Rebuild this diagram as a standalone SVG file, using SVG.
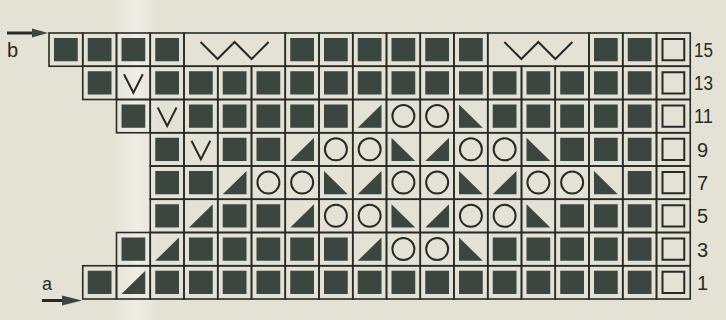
<svg xmlns="http://www.w3.org/2000/svg" xmlns:xlink="http://www.w3.org/1999/xlink" width="726" height="320" viewBox="0 0 726 320">
<style>
.fr{fill:none;stroke:#262b28;stroke-width:1.6}
.sq{fill:#3b4641}
.ln{fill:none;stroke:#262b28;stroke-width:2}
.lbl{font-family:"Liberation Sans",Arial,sans-serif;fill:#262b28}
</style>
<defs>
<linearGradient id="glare" x1="0" y1="0" x2="1" y2="0">
<stop offset="0" stop-color="#f4f2ea" stop-opacity="0"/>
<stop offset="0.55" stop-color="#f4f2ea" stop-opacity="0.75"/>
<stop offset="1" stop-color="#f4f2ea" stop-opacity="0"/>
</linearGradient>
<g id="S"><rect class="fr" width="33.75" height="33.25"/><rect class="sq" x="5" y="5" width="23.75" height="23.25"/></g>
<g id="L"><rect class="fr" width="33.75" height="33.25"/><polygon class="sq" points="5,28.25 28.75,28.25 28.75,5"/></g>
<g id="R"><rect class="fr" width="33.75" height="33.25"/><polygon class="sq" points="5,5 5,28.25 28.75,28.25"/></g>
<g id="O"><rect class="fr" width="33.75" height="33.25"/><circle class="ln" cx="16.9" cy="16.6" r="11"/></g>
<g id="V"><rect class="fr" width="33.75" height="33.25"/><polyline class="ln" points="7.5,8 16.9,26.5 26.3,8"/></g>
<g id="E"><rect class="fr" width="33.75" height="33.25"/><rect class="ln" x="6" y="6" width="21.75" height="21.25"/></g>
<g id="W"><rect class="fr" width="101.25" height="33.25"/><polyline class="ln" points="16.6,9 33.6,26 50.6,9 67.6,26 84.6,9"/></g>
</defs>
<rect width="726" height="320" fill="#e4e2d5"/>
<rect x="112" y="0" width="46" height="320" fill="url(#glare)"/>

<g id="row15">
<use href="#S" x="49" y="33"/><use href="#S" x="82.75" y="33"/><use href="#S" x="116.5" y="33"/><use href="#S" x="150.25" y="33"/>
<use href="#W" x="184" y="33"/>
<use href="#S" x="285.25" y="33"/><use href="#S" x="319" y="33"/><use href="#S" x="352.75" y="33"/><use href="#S" x="386.5" y="33"/><use href="#S" x="420.25" y="33"/><use href="#S" x="454" y="33"/>
<use href="#W" x="487.75" y="33"/>
<use href="#S" x="589" y="33"/><use href="#S" x="622.75" y="33"/><use href="#E" x="656.5" y="33"/>
</g>
<g id="row13">
<use href="#S" x="82.75" y="66.25"/><use href="#V" x="116.5" y="66.25"/><use href="#S" x="150.25" y="66.25"/><use href="#S" x="184" y="66.25"/><use href="#S" x="217.75" y="66.25"/><use href="#S" x="251.5" y="66.25"/><use href="#S" x="285.25" y="66.25"/><use href="#S" x="319" y="66.25"/><use href="#S" x="352.75" y="66.25"/><use href="#S" x="386.5" y="66.25"/><use href="#S" x="420.25" y="66.25"/><use href="#S" x="454" y="66.25"/><use href="#S" x="487.75" y="66.25"/><use href="#S" x="521.5" y="66.25"/><use href="#S" x="555.25" y="66.25"/><use href="#S" x="589" y="66.25"/><use href="#S" x="622.75" y="66.25"/><use href="#E" x="656.5" y="66.25"/>
</g>
<g id="row11">
<use href="#S" x="116.5" y="99.5"/><use href="#V" x="150.25" y="99.5"/><use href="#S" x="184" y="99.5"/><use href="#S" x="217.75" y="99.5"/><use href="#S" x="251.5" y="99.5"/><use href="#S" x="285.25" y="99.5"/><use href="#S" x="319" y="99.5"/><use href="#L" x="352.75" y="99.5"/><use href="#O" x="386.5" y="99.5"/><use href="#O" x="420.25" y="99.5"/><use href="#R" x="454" y="99.5"/><use href="#S" x="487.75" y="99.5"/><use href="#S" x="521.5" y="99.5"/><use href="#S" x="555.25" y="99.5"/><use href="#S" x="589" y="99.5"/><use href="#S" x="622.75" y="99.5"/><use href="#E" x="656.5" y="99.5"/>
</g>
<g id="row9">
<use href="#S" x="150.25" y="132.75"/><use href="#V" x="184" y="132.75"/><use href="#S" x="217.75" y="132.75"/><use href="#S" x="251.5" y="132.75"/><use href="#L" x="285.25" y="132.75"/><use href="#O" x="319" y="132.75"/><use href="#O" x="352.75" y="132.75"/><use href="#R" x="386.5" y="132.75"/><use href="#L" x="420.25" y="132.75"/><use href="#O" x="454" y="132.75"/><use href="#O" x="487.75" y="132.75"/><use href="#R" x="521.5" y="132.75"/><use href="#S" x="555.25" y="132.75"/><use href="#S" x="589" y="132.75"/><use href="#S" x="622.75" y="132.75"/><use href="#E" x="656.5" y="132.75"/>
</g>
<g id="row7">
<use href="#S" x="150.25" y="166"/><use href="#S" x="184" y="166"/><use href="#L" x="217.75" y="166"/><use href="#O" x="251.5" y="166"/><use href="#O" x="285.25" y="166"/><use href="#R" x="319" y="166"/><use href="#L" x="352.75" y="166"/><use href="#O" x="386.5" y="166"/><use href="#O" x="420.25" y="166"/><use href="#R" x="454" y="166"/><use href="#L" x="487.75" y="166"/><use href="#O" x="521.5" y="166"/><use href="#O" x="555.25" y="166"/><use href="#R" x="589" y="166"/><use href="#S" x="622.75" y="166"/><use href="#E" x="656.5" y="166"/>
</g>
<g id="row5">
<use href="#S" x="150.25" y="199.25"/><use href="#L" x="184" y="199.25"/><use href="#S" x="217.75" y="199.25"/><use href="#S" x="251.5" y="199.25"/><use href="#L" x="285.25" y="199.25"/><use href="#O" x="319" y="199.25"/><use href="#O" x="352.75" y="199.25"/><use href="#R" x="386.5" y="199.25"/><use href="#L" x="420.25" y="199.25"/><use href="#O" x="454" y="199.25"/><use href="#O" x="487.75" y="199.25"/><use href="#R" x="521.5" y="199.25"/><use href="#S" x="555.25" y="199.25"/><use href="#S" x="589" y="199.25"/><use href="#S" x="622.75" y="199.25"/><use href="#E" x="656.5" y="199.25"/>
</g>
<g id="row3">
<use href="#S" x="116.5" y="232.5"/><use href="#L" x="150.25" y="232.5"/><use href="#S" x="184" y="232.5"/><use href="#S" x="217.75" y="232.5"/><use href="#S" x="251.5" y="232.5"/><use href="#S" x="285.25" y="232.5"/><use href="#S" x="319" y="232.5"/><use href="#L" x="352.75" y="232.5"/><use href="#O" x="386.5" y="232.5"/><use href="#O" x="420.25" y="232.5"/><use href="#R" x="454" y="232.5"/><use href="#S" x="487.75" y="232.5"/><use href="#S" x="521.5" y="232.5"/><use href="#S" x="555.25" y="232.5"/><use href="#S" x="589" y="232.5"/><use href="#S" x="622.75" y="232.5"/><use href="#E" x="656.5" y="232.5"/>
</g>
<g id="row1">
<use href="#S" x="82.75" y="265.75"/><use href="#L" x="116.5" y="265.75"/><use href="#S" x="150.25" y="265.75"/><use href="#S" x="184" y="265.75"/><use href="#S" x="217.75" y="265.75"/><use href="#S" x="251.5" y="265.75"/><use href="#S" x="285.25" y="265.75"/><use href="#S" x="319" y="265.75"/><use href="#S" x="352.75" y="265.75"/><use href="#S" x="386.5" y="265.75"/><use href="#S" x="420.25" y="265.75"/><use href="#S" x="454" y="265.75"/><use href="#S" x="487.75" y="265.75"/><use href="#S" x="521.5" y="265.75"/><use href="#S" x="555.25" y="265.75"/><use href="#S" x="589" y="265.75"/><use href="#S" x="622.75" y="265.75"/><use href="#E" x="656.5" y="265.75"/>
</g>

<g id="connectors">
<line x1="7" y1="33" x2="36" y2="33" stroke="#262b28" stroke-width="3"/>
<polygon points="32,28.5 48,33 32,37.5" fill="#3b4641"/>
<line x1="42" y1="300.5" x2="66" y2="300.5" stroke="#262b28" stroke-width="3"/>
<polygon points="62,295.5 82,300.5 62,305.5" fill="#3b4641"/>
</g>

<g id="labels" class="lbl">
<text x="7" y="57" font-size="20">b</text>
<text x="42" y="290" font-size="18">a</text>
<g font-size="20">
<text x="694" y="56.5" textLength="19" lengthAdjust="spacingAndGlyphs">15</text>
<text x="694" y="90" textLength="19" lengthAdjust="spacingAndGlyphs">13</text>
<text x="694" y="123" textLength="19" lengthAdjust="spacingAndGlyphs">11</text>
<text x="697" y="156.5">9</text>
<text x="697" y="190">7</text>
<text x="697" y="223">5</text>
<text x="697" y="256.5">3</text>
<text x="697" y="290">1</text>
</g>
</g>
</svg>
